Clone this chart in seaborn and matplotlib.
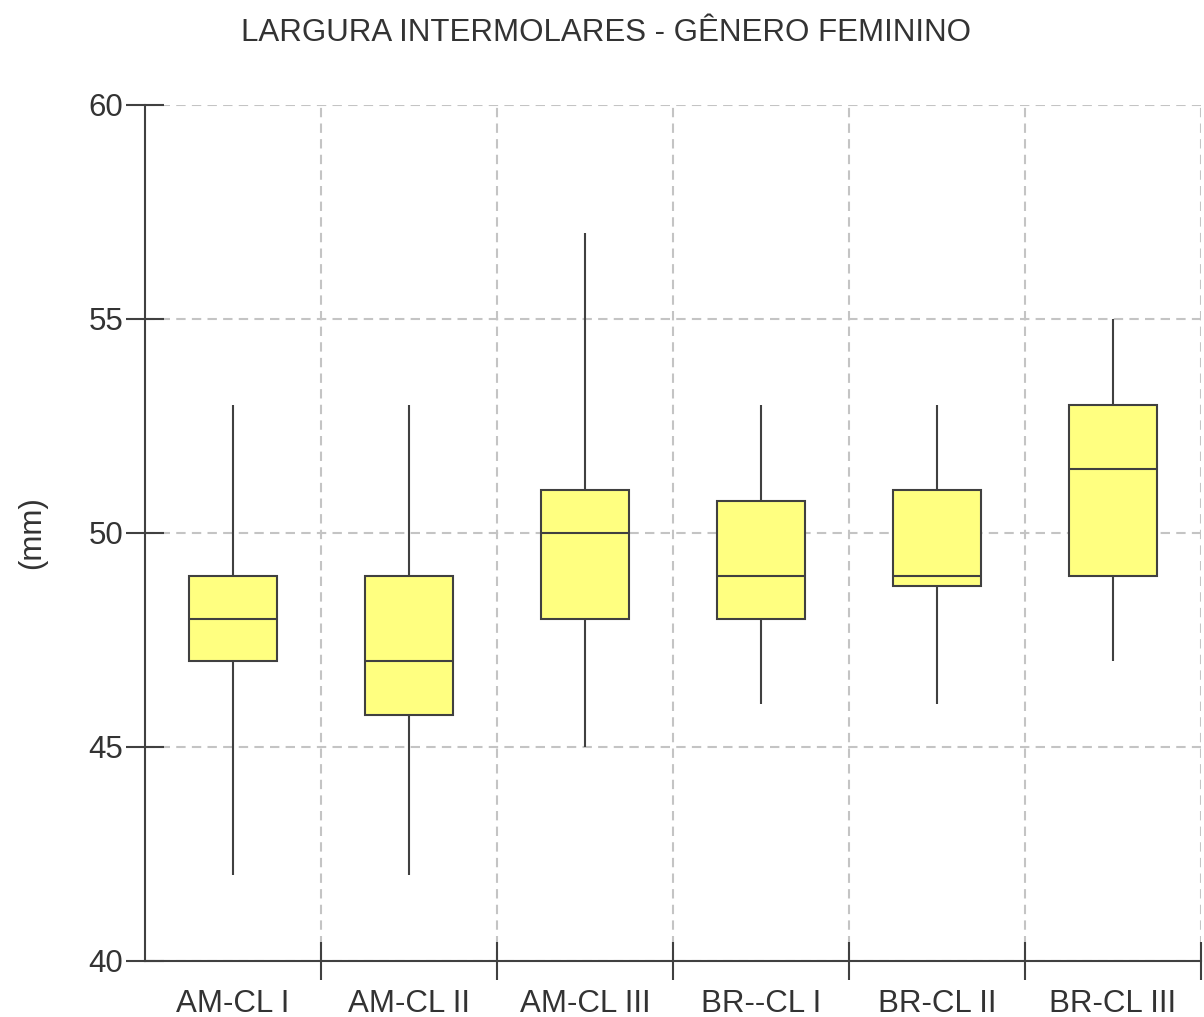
import pandas as pd
import numpy as np
import matplotlib.pyplot as plt
import seaborn as sns

# five-number summaries (min, q1, median, q3, max)
groups = ["AM-CL I", "AM-CL II", "AM-CL III", "BR--CL I", "BR-CL II", "BR-CL III"]
mins = [42, 42, 45, 46, 46, 47]
q1s = [47, 45.75, 48, 48, 48.75, 49]
medians = [48, 47, 50, 49, 49, 51.5]
q3s = [49, 49, 51, 50.75, 51, 53]
maxs = [53, 53, 57, 53, 53, 55]

rows = []
for g, a, b, c, d, e in zip(groups, mins, q1s, medians, q3s, maxs):
    for v in (a, b, c, d, e):
        rows.append({"grupo": g, "valor": v})
df = pd.DataFrame(rows)

sns.set_style("white")
plt.rcParams["font.family"] = ["Liberation Sans", "DejaVu Sans"]

dark = "#404040"
txt = "#333333"
fig = plt.figure(figsize=(12.04, 10.17), dpi=100)
ax = fig.add_axes([0.1204, 0.0551, 0.8771, 0.8417])

sns.boxplot(data=df, x="grupo", y="valor", order=groups, whis=(0, 100),
            width=0.5, color="#FFFF80", saturation=1, linecolor=dark,
            linewidth=1.5, showcaps=False, ax=ax)

ax.set_xlim(-0.5, 5.5)
ax.set_ylim(40, 60)
ax.set_yticks([40, 45, 50, 55, 60])

# major ticks at category boundaries, labels on minor ticks at centres
ax.set_xticks(np.arange(0.5, 6, 1))
ax.set_xticklabels([])
ax.set_xticks(np.arange(6), minor=True)
ax.set_xticklabels(groups, minor=True)
ax.tick_params(axis="x", which="minor", bottom=True, length=0, pad=20,
               labelsize=22.5, colors=txt)
ax.tick_params(axis="x", which="major", bottom=True, direction="inout",
               length=27, width=1.5, color=dark)
ax.tick_params(axis="y", left=True, direction="inout", length=27, width=1.5,
               color=dark, labelsize=22.5, labelcolor=txt, pad=2)

ax.grid(True, which="major", color="#C4C4C4", linewidth=1.5, linestyle=(0, (4.5, 3)))
ax.set_axisbelow(True)

for side in ["top", "right"]:
    ax.spines[side].set_visible(False)
for side in ["left", "bottom"]:
    ax.spines[side].set_color(dark)
    ax.spines[side].set_linewidth(1.5)

ax.set_xlabel("")
ax.set_ylabel("(mm)", fontsize=22.5, color=txt, labelpad=30)
fig.text(0.503, 0.968, "LARGURA INTERMOLARES - GÊNERO FEMININO",
         ha="center", va="center", fontsize=22.5, color=txt)

fig.savefig("out.png", dpi=100)
